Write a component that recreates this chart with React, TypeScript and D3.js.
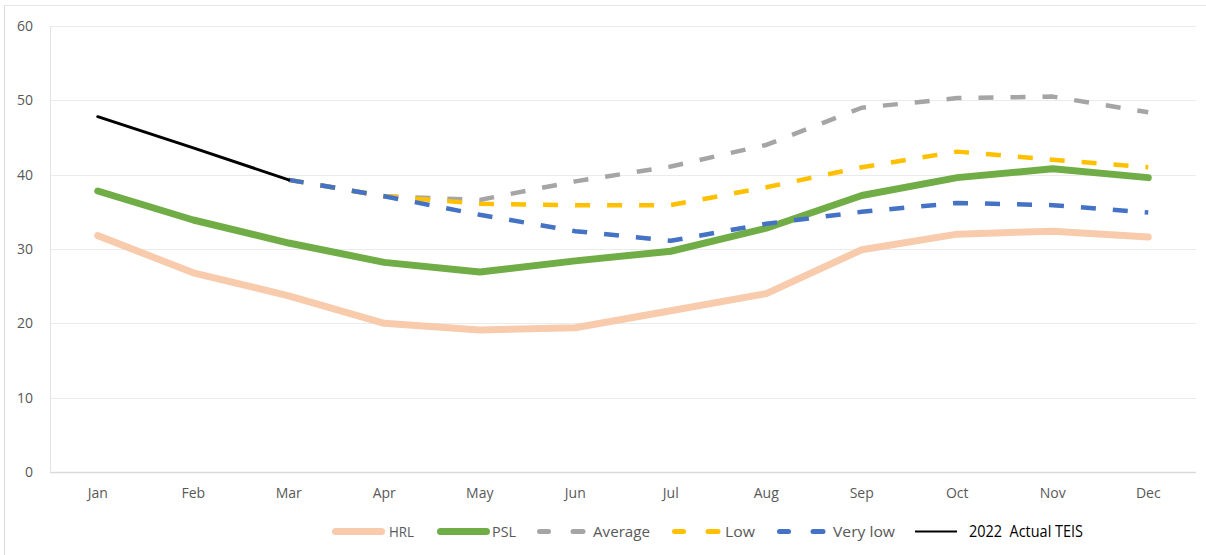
import React, { useEffect, useRef } from 'react';
import * as d3 from 'd3';

const months = ['Jan', 'Feb', 'Mar', 'Apr', 'May', 'Jun', 'Jul', 'Aug', 'Sep', 'Oct', 'Nov', 'Dec'];
const yTicks = [0, 10, 20, 30, 40, 50, 60];

const hrl = [31.8, 26.8, 23.7, 20.0, 19.1, 19.4, 21.7, 24.0, 29.9, 32.0, 32.4, 31.6];
const psl = [37.8, 33.9, 30.8, 28.2, 26.9, 28.4, 29.7, 32.8, 37.2, 39.6, 40.8, 39.6];
const average = [null, null, 39.3, 37.1, 36.6, 39.1, 41.1, 44.0, 49.0, 50.3, 50.5, 48.4];
const low = [null, null, 39.3, 37.1, 36.1, 35.9, 35.9, 38.3, 41.0, 43.1, 42.0, 41.0];
const veryLow = [null, null, 39.3, 37.1, 34.6, 32.4, 31.1, 33.4, 35.0, 36.2, 35.9, 34.9];
const actual2022 = [47.8, 43.6, 39.3, null, null, null, null, null, null, null, null, null];

const series = [
  { name: 'HRL', values: hrl, color: '#F8CBAD', width: 7, dash: null },
  { name: 'PSL', values: psl, color: '#70AD47', width: 7, dash: null },
  { name: 'Average', values: average, color: '#A5A5A5', width: 4.5, dash: '15 17' },
  { name: 'Low', values: low, color: '#FFC000', width: 4.5, dash: '15 17' },
  { name: 'Very low', values: veryLow, color: '#4472C4', width: 4.5, dash: '15 17' },
  { name: '2022  Actual TEIS', values: actual2022, color: '#000000', width: 3, dash: null },
];

// legend layout: sample start, text start, text width
const legendX = [332, 437, 537, 672, 777, 915];
const legendTextX = [389, 492, 593, 725, 833, 969];
const legendTextW = [25, 24, 57, 30, 62, 114];

const App = () => {
  const ref = useRef<SVGSVGElement>(null);

  useEffect(() => {
    const svg = d3.select(ref.current);
    svg.selectAll('*').remove();

    const width = 1206;
    const height = 555;
    const margin = { top: 26, right: 10, bottom: 83, left: 50 };
    const font = '"Open Sans", sans-serif';

    // outer frame (left + top edges visible)
    svg.append('line').attr('x1', 4.5).attr('x2', 4.5).attr('y1', 5).attr('y2', height)
      .attr('stroke', '#d9d9d9');
    svg.append('line').attr('x1', 4.5).attr('x2', width).attr('y1', 5.5).attr('y2', 5.5)
      .attr('stroke', '#e6e6e6');

    const x = d3.scaleBand()
      .domain(months)
      .range([margin.left, width - margin.right])
      .padding(0);

    const y = d3.scaleLinear()
      .domain([0, 60])
      .range([height - margin.bottom, margin.top]);

    // gridlines
    svg.append('g')
      .selectAll('line')
      .data(yTicks)
      .enter()
      .append('line')
      .attr('x1', margin.left)
      .attr('x2', width - margin.right)
      .attr('y1', d => Math.round(y(d)) + 0.5)
      .attr('y2', d => Math.round(y(d)) + 0.5)
      .attr('stroke', d => (d === 0 ? '#d9d9d9' : '#ebebeb'))
      .attr('stroke-width', d => (d === 0 ? 1.5 : 1));

    // left axis line
    svg.append('line')
      .attr('x1', margin.left + 0.5).attr('x2', margin.left + 0.5)
      .attr('y1', y(60)).attr('y2', y(0))
      .attr('stroke', '#e3e3e3');

    // y labels
    svg.append('g')
      .selectAll('text')
      .data(yTicks)
      .enter()
      .append('text')
      .attr('x', 33)
      .attr('y', d => y(d))
      .attr('dy', '0.35em')
      .attr('text-anchor', 'end')
      .style('font-family', font)
      .style('font-size', '14px')
      .attr('fill', '#595959')
      .text(d => d);

    // x labels
    svg.append('g')
      .selectAll('text')
      .data(months)
      .enter()
      .append('text')
      .attr('x', d => (x(d) as number) + x.bandwidth() / 2)
      .attr('y', 498)
      .attr('text-anchor', 'middle')
      .style('font-family', font)
      .style('font-size', '14px')
      .attr('fill', '#595959')
      .text(d => d);

    const line = d3.line<number | null>()
      .defined(d => d !== null)
      .x((_, i) => (x(months[i]) as number) + x.bandwidth() / 2)
      .y(d => y(d as number));

    series.forEach(s => {
      svg.append('path')
        .datum(s.values)
        .attr('d', line)
        .attr('fill', 'none')
        .attr('stroke', s.color)
        .attr('stroke-width', s.width)
        .attr('stroke-linejoin', 'round')
        .attr('stroke-linecap', s.dash ? 'butt' : 'round')
        .attr('stroke-dasharray', s.dash);
    });

    // legend
    const legendY = 531.5;
    series.forEach((s, i) => {
      const isActual = s.width === 3;
      const g = svg.append('g').attr('transform', `translate(${legendX[i]},${legendY})`);
      if (s.dash) {
        g.append('line').attr('x1', 2.5).attr('x2', 11.5).attr('y1', 0).attr('y2', 0)
          .attr('stroke', s.color).attr('stroke-width', 5).attr('stroke-linecap', 'round');
        g.append('line').attr('x1', 36).attr('x2', 46).attr('y1', 0).attr('y2', 0)
          .attr('stroke', s.color).attr('stroke-width', 5).attr('stroke-linecap', 'round');
      } else {
        g.append('line')
          .attr('x1', isActual ? 0 : 3.5).attr('x2', isActual ? 42 : 49.5)
          .attr('y1', 0).attr('y2', 0)
          .attr('stroke', s.color).attr('stroke-width', isActual ? 2.2 : 7)
          .attr('stroke-linecap', isActual ? 'butt' : 'round');
      }
      svg.append('text')
        .attr('x', legendTextX[i])
        .attr('y', legendY)
        .attr('dy', '0.35em')
        .attr('textLength', legendTextW[i])
        .attr('lengthAdjust', 'spacingAndGlyphs')
        .style('white-space', 'pre')
        .style('font-family', font)
        .style('font-size', isActual ? '15.5px' : '14.5px')
        .attr('fill', isActual ? '#000000' : '#595959')
        .text(s.name);
    });
  }, []);

  return <svg ref={ref} width={1206} height={555} style={{ position: 'absolute', left: 0, top: 0, background: '#fff' }} />;
};

export default App;
